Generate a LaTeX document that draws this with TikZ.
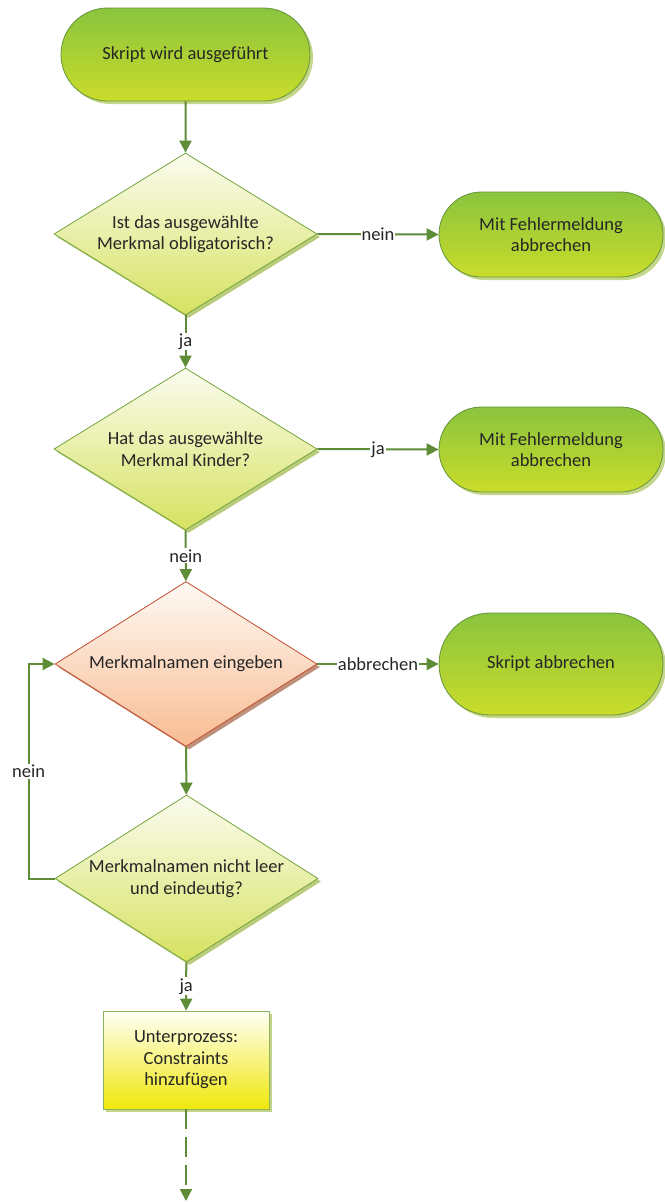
\documentclass[tikz,border=0pt]{standalone}
\usepackage{fontspec}
\setmainfont{Carlito}
\usetikzlibrary{shapes.geometric,shapes.misc,shadows,arrows.meta}
\definecolor{arr}{RGB}{95,140,55}
\definecolor{termtop}{RGB}{138,196,62}
\definecolor{termbot}{RGB}{202,220,42}
\definecolor{termdraw}{RGB}{100,148,60}
\definecolor{termshadow}{RGB}{196,214,140}
\definecolor{dectop}{RGB}{251,252,240}
\definecolor{decbot}{RGB}{214,226,96}
\definecolor{decdraw}{RGB}{118,164,60}
\definecolor{decshadow}{RGB}{184,204,124}
\definecolor{intop}{RGB}{254,249,244}
\definecolor{inbot}{RGB}{248,188,146}
\definecolor{indraw}{RGB}{196,76,46}
\definecolor{inshadow}{RGB}{190,145,125}
\definecolor{subtop}{RGB}{255,255,246}
\definecolor{subbot}{RGB}{240,232,10}
\definecolor{subdraw}{RGB}{140,178,90}
\definecolor{subshadow}{RGB}{196,210,140}
\definecolor{txt}{RGB}{38,38,38}
\begin{document}
\begin{tikzpicture}[x=1pt,y=-1pt,font=\fontsize{18.5}{21.5}\selectfont,text=txt,
  term/.style={rounded rectangle, draw=termdraw, line width=0.8pt, top color=termtop, bottom color=termbot, align=center, inner sep=0pt,
    drop shadow={shadow xshift=3pt,shadow yshift=-3pt,fill=termshadow,opacity=1}},
  dec/.style={diamond, aspect=1.62, draw=decdraw, line width=0.8pt, top color=dectop, bottom color=decbot, align=center, inner sep=-12pt,
    drop shadow={shadow xshift=3pt,shadow yshift=-3pt,fill=decshadow,opacity=1}},
  inp/.style={diamond, aspect=1.6, draw=indraw, line width=0.8pt, top color=intop, bottom color=inbot, align=center, inner sep=-12pt,
    drop shadow={shadow xshift=3pt,shadow yshift=-3pt,fill=inshadow,opacity=1}},
  sub/.style={rectangle, draw=subdraw, line width=0.8pt, top color=subtop, bottom color=subbot, align=center, inner sep=0pt,
    drop shadow={shadow xshift=3pt,shadow yshift=-3pt,fill=subshadow,opacity=1}},
  conn/.style={draw=arr, line width=2pt, -{Triangle[length=12pt,width=12pt]}},
  lbl/.style={fill=white, inner sep=1pt, text=txt}]
\useasboundingbox[fill=white] (0,0) rectangle (664,1202);

\node[term, minimum width=249pt, minimum height=93pt] (start) at (185.5,54.5) {Skript wird ausgeführt};
\node[dec, minimum width=263pt, minimum height=162pt] (d1) at (185.5,234) {Ist das ausgewählte\\Merkmal obligatorisch?};
\node[term, minimum width=224pt, minimum height=85pt] (t2) at (551,234.5) {Mit Fehlermeldung\\abbrechen};
\node[dec, minimum width=263pt, minimum height=162pt] (d2) at (185.5,449) {Hat das ausgewählte\\Merkmal Kinder?};
\node[term, minimum width=224pt, minimum height=85pt] (t3) at (551,449.5) {Mit Fehlermeldung\\abbrechen};
\node[inp, minimum width=262pt, minimum height=165pt] (d3) at (186,664) {Merkmalnamen eingeben};
\node[term, minimum width=224pt, minimum height=102pt] (t4) at (551,664) {Skript abbrechen};
\node[dec, minimum width=263pt, minimum height=167pt] (d4) at (186.5,878.5) {Merkmalnamen nicht leer\\und eindeutig?};
\node[sub, minimum width=166pt, minimum height=98pt] (box) at (186,1060) {Unterprozess:\\Constraints\\hinzufügen};
\coordinate (end) at (186,1201);

\draw[conn] (start) -- (d1);
\draw[conn] (d1) -- node[lbl]{ja} (d2);
\draw[conn] (d1.east) -- node[lbl]{nein} (t2.west);
\draw[conn] (d2) -- node[lbl]{nein} (d3);
\draw[conn] (d2.east) -- node[lbl]{ja} (t3.west);
\draw[conn] (d3.east) -- node[lbl]{abbrechen} (t4.west);
\draw[conn] (d3) -- (d4);
\draw[conn] (d4) -- node[lbl]{ja} (box);
\draw[conn] (d4.west) -- ++(-26,0) |- node[lbl,pos=0.25]{nein} (d3.west);
\draw[conn, dash pattern=on 20pt off 8pt] (box) -- (end);
\end{tikzpicture}
\end{document}
